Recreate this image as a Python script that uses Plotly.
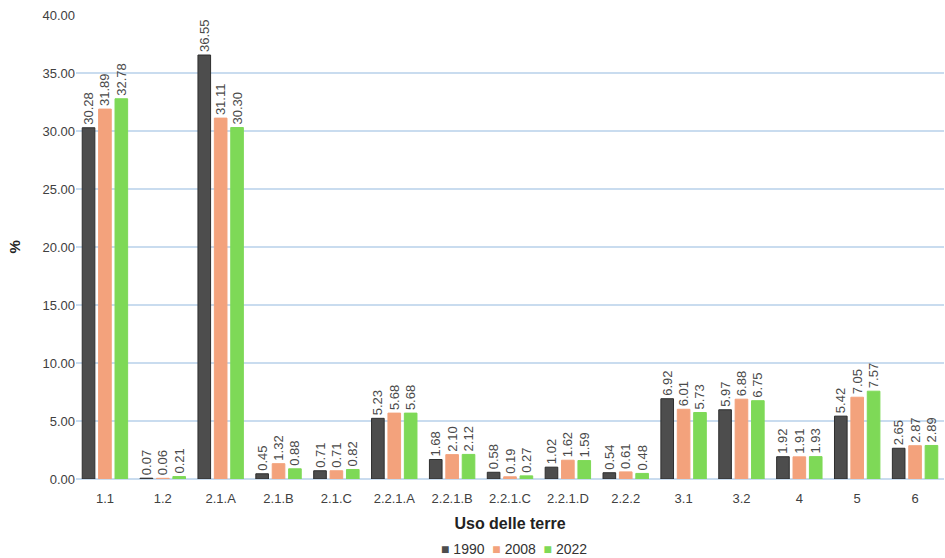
import plotly.graph_objects as go

categories = ["1.1", "1.2", "2.1.A", "2.1.B", "2.1.C", "2.2.1.A", "2.2.1.B", "2.2.1.C",
              "2.2.1.D", "2.2.2", "3.1", "3.2", "4", "5", "6"]
v1990 = [30.28, 0.07, 36.55, 0.45, 0.71, 5.23, 1.68, 0.58, 1.02, 0.54, 6.92, 5.97, 1.92, 5.42, 2.65]
v2008 = [31.89, 0.06, 31.11, 1.32, 0.71, 5.68, 2.10, 0.19, 1.62, 0.61, 6.01, 6.88, 1.91, 7.05, 2.87]
v2022 = [32.78, 0.21, 30.30, 0.88, 0.82, 5.68, 2.12, 0.27, 1.59, 0.48, 5.73, 6.75, 1.93, 7.57, 2.89]
years = ["1990", "2008", "2022"]
tick_vals = [0, 5, 10, 15, 20, 25, 30, 35, 40]

colors = ["#4d4d4d", "#f3a27c", "#7ed957"]
lines = ["#2e2e2e", "#f3a27c", "#7ed957"]
narrow = "Liberation Sans Narrow, Arial Narrow, Liberation Sans"

fig = go.Figure()
for name, vals, c, lc in zip(years, [v1990, v2008, v2022], colors, lines):
    fig.add_trace(go.Bar(
        x=categories, y=vals, name=name,
        marker=dict(color=c, line=dict(color=lc, width=1)),
        text=[f"{v:.2f}" for v in vals],
        textposition="outside", textangle=-90,
        textfont=dict(size=13, color="#4a4a4a", family=narrow),
        cliponaxis=False, showlegend=False,
    ))

# compact legend as text
legend_text = "&nbsp;&nbsp;".join(
    f"<span style='color:{c}'>■</span> <span style='color:#333333'>{y}</span>"
    for y, c in zip(years, colors)
)
fig.add_annotation(text=legend_text, xref="paper", yref="paper", x=0.505, y=-0.151,
                   xanchor="center", yanchor="middle", showarrow=False,
                   font=dict(size=14, family=narrow, color="#333333"))

# y-axis title
fig.add_annotation(text="<b>%</b>", xref="paper", yref="paper", x=-0.072, y=0.5,
                   xanchor="center", yanchor="middle", showarrow=False, textangle=-90,
                   font=dict(size=15, color="#222222"))

fig.update_layout(
    width=945, height=558,
    margin=dict(l=76, r=1, t=15, b=79, autoexpand=False),
    paper_bgcolor="white", plot_bgcolor="white",
    barmode="group", bargap=0.15, bargroupgap=0.23,
    uniformtext=dict(minsize=13, mode="show"),
    font=dict(family="Liberation Sans", color="#404040"),
    xaxis=dict(
        title=dict(text="<b>Uso delle terre</b>", font=dict(size=16, color="#222222"), standoff=13),
        tickfont=dict(size=13, color="#404040", family=narrow), showgrid=False, showline=False,
        ticks="outside", ticklen=7, tickcolor="rgba(0,0,0,0)", automargin=False,
    ),
    yaxis=dict(
        range=[0, 40], tickvals=tick_vals, tickformat=".2f",
        tickfont=dict(size=13, color="#404040", family=narrow), automargin=False,
        showgrid=True, gridcolor="#c9dcef", gridwidth=1.5,
        zeroline=True, zerolinecolor="#c9dcef", zerolinewidth=1.5, showline=False,
    ),
)

fig.write_html("out.html", config={"displayModeBar": False},
               post_script="document.body.style.margin='0';")
